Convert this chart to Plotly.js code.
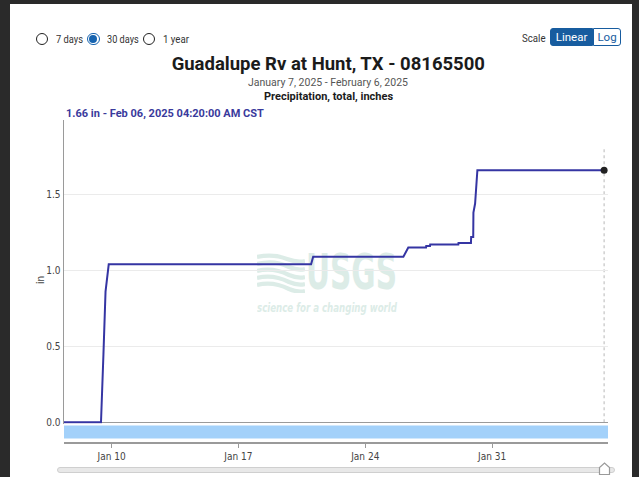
<!DOCTYPE html>
<html>
<head>
<meta charset="utf-8">
<script src="https://cdn.plot.ly/plotly-3.0.1.min.js"></script>
<style>
  html, body { margin:0; padding:0; width:639px; height:477px; overflow:hidden; background:#2a2a2a; }
  #card { position:absolute; left:10px; top:4px; width:622px; height:480px; background:#fff; }
  #wm { position:absolute; left:0; top:0; width:639px; height:477px; pointer-events:none; }
  #chart { position:absolute; left:0; top:0; width:639px; height:477px; }
  .ctl { position:absolute; font-family:Roboto, sans-serif; color:#333; white-space:nowrap; }
  .radio { position:absolute; width:10.4px; height:10.4px; border:1.6px solid #222; border-radius:50%; background:#fff; }
  .radio.on { border:1.8px solid #1764b0; }
  .radio.on::after { content:''; position:absolute; left:1.3px; top:1.3px; width:7.8px; height:7.8px; border-radius:50%; background:#1764b0; }
  .fit { position:absolute; white-space:nowrap; transform-origin:0 0; }
  .lbl { font-family:Roboto, sans-serif; font-size:11.5px; line-height:14px; color:#333; }
</style>
</head>
<body>
<div id="card"></div>
<div id="wm">
  <svg style="position:absolute;left:257px;top:253px" width="48" height="40" viewBox="0 0 48 40">
    <g fill="none" stroke="#dcece7" stroke-width="4.2">
      <path d="M0,4 C10,2 20,2 30,6 C38,9 44,9 48,8"/>
      <path d="M0,11 C12,8 22,9 32,14 C39,17 44,17 48,16"/>
      <path d="M0,18 C12,15 22,17 32,22 C39,25 44,25 48,24"/>
      <path d="M0,25 C12,22 22,24 32,29 C39,32 44,32 48,31"/>
      <path d="M0,32 C12,29 22,31 32,36 C39,39 44,39 48,38"/>
    </g>
  </svg>
  <span class="fit" id="wmUSGS" data-x="306" data-y="246.7" data-w="91" style="font-family:'Liberation Sans Narrow','DejaVu Sans Condensed',sans-serif;font-weight:bold;font-size:50px;line-height:50px;color:#dcece7;">USGS</span>
  <span class="fit" id="wmSub" data-x="257" data-y="300.5" data-w="140" style="font-family:'Liberation Sans Narrow','DejaVu Sans Condensed',sans-serif;font-style:italic;font-weight:bold;font-size:13px;line-height:13px;color:#dcece7;">science for a changing world</span>
</div>
<div id="chart"></div>

<div class="radio" style="left:35.5px;top:32.5px"></div>
<span class="fit lbl" data-x="55.5" data-y="32.3" data-w="27">7 days</span>
<div class="radio on" style="left:87.2px;top:32.5px"></div>
<span class="fit lbl" data-x="107.3" data-y="32.3" data-w="31.7">30 days</span>
<div class="radio" style="left:142.5px;top:32.5px"></div>
<span class="fit lbl" data-x="163.3" data-y="32.3" data-w="26">1 year</span>

<span class="fit lbl" data-x="521.7" data-y="30.5" data-w="23.5">Scale</span>
<div class="ctl" style="left:550px;top:28px;width:43px;height:18px;background:#175c9f;border:1px solid #175c9f;border-radius:3px 0 0 3px;box-sizing:border-box;color:#fff;font-size:11.5px;line-height:16px;text-align:center;">Linear</div>
<div class="ctl" style="left:593px;top:28px;width:28px;height:18px;background:#fff;border:1px solid #175c9f;border-radius:0 3px 3px 0;box-sizing:border-box;color:#175c9f;font-size:11.5px;line-height:16px;text-align:center;">Log</div>

<div style="position:absolute;left:57px;top:467px;width:556px;height:4px;background:#e8e8e8;border:1px solid #cfcfcf;border-radius:3px;"></div>
<svg style="position:absolute;left:598px;top:462px" width="13" height="14" viewBox="0 0 13 14">
  <path d="M1.5,12.5 L1.5,5.5 L6.5,1 L11.5,5.5 L11.5,12.5 Z" fill="#fff" stroke="#9a9a9a" stroke-width="1.2"/>
</svg>

<script>
// ---- data ----
const dates = [
  '2025-01-07 04:20', '2025-01-09 10:00', '2025-01-09 13:15', '2025-01-09 16:00', '2025-01-09 20:15',
  '2025-01-21 00:15', '2025-01-21 03:00', '2025-01-26 02:30', '2025-01-26 09:00',
  '2025-01-27 08:30', '2025-01-27 08:45', '2025-01-27 13:45', '2025-01-27 14:00',
  '2025-01-29 03:15', '2025-01-29 03:30', '2025-01-29 20:00', '2025-01-29 20:15',
  '2025-01-29 23:00', '2025-01-29 23:15', '2025-01-30 01:30', '2025-01-30 04:30',
  '2025-02-06 04:20'
];
const precip = [
  0, 0, 0.45, 0.86, 1.04,
  1.04, 1.09, 1.09, 1.15,
  1.15, 1.16, 1.16, 1.17,
  1.17, 1.18, 1.18, 1.22,
  1.22, 1.38, 1.44, 1.66,
  1.66
];
const xTickVals = ['2025-01-10', '2025-01-17', '2025-01-24', '2025-01-31'];
const xTickText = ['Jan 10', 'Jan 17', 'Jan 24', 'Jan 31'];
const yTickVals = [0, 0.5, 1.0, 1.5];
const yTickText = ['0.0', '0.5', '1.0', '1.5'];
const titleText = 'Guadalupe Rv at Hunt, TX - 08165500';
const subtitleText = 'January 7, 2025 - February 6, 2025';
const paramText = 'Precipitation, total, inches';
const unitText = 'in';

// ---- layout helpers (pixel -> paper) ----
const L = 64, R = 608, T = 120, B = 442;
const px = x => (x - L) / (R - L);
const py = y => (B - y) / (B - T);
const NARROW = "'Liberation Sans Narrow','DejaVu Sans Condensed','Arial Narrow',sans-serif";

const last = dates.length - 1;
const currentText = precip[last].toFixed(2) + ' in - Feb 06, 2025 04:20:00 AM CST';

const traces = [
  { x: dates, y: precip, type: 'scatter', mode: 'lines',
    line: { color: '#3535a3', width: 2 }, hoverinfo: 'skip' },
  { x: [dates[last]], y: [precip[last]], type: 'scatter', mode: 'markers',
    marker: { color: '#222', size: 7 }, cliponaxis: false, hoverinfo: 'skip' }
];

const layout = {
  width: 639, height: 477,
  margin: { l: L, r: 639 - R, t: T, b: 477 - B, pad: 0 },
  paper_bgcolor: 'rgba(0,0,0,0)', plot_bgcolor: 'rgba(0,0,0,0)',
  showlegend: false,
  font: { family: NARROW, size: 10, color: '#444' },
  title: { text: titleText, font: { family: 'Roboto', size: 18.5, color: '#1b1b1b', weight: 'bold' },
           xref: 'container', x: 328.3 / 639, xanchor: 'center',
           yref: 'container', y: 1 - 64 / 477, yanchor: 'middle' },
  xaxis: { type: 'date', range: ['2025-01-07 09:00', '2025-02-06 09:30'],
           anchor: 'free', position: 0, showline: true, linecolor: '#9a9a9a', linewidth: 1.5,
           ticks: 'outside', ticklen: 4, tickcolor: '#9a9a9a', tickwidth: 1,
           tickmode: 'array', tickvals: xTickVals, ticktext: xTickText,
           showgrid: false, zeroline: false, tickfont: { size: 10, color: '#444' }, fixedrange: true },
  yaxis: { range: [-0.01, 1.99], domain: [py(423.8), 1],
           showline: true, linecolor: '#9a9a9a', linewidth: 1.5, ticks: '',
           tickmode: 'array', tickvals: yTickVals, ticktext: yTickText,
           showgrid: true, gridcolor: '#ebebeb', gridwidth: 1,
           zeroline: true, zerolinecolor: '#9a9a9a', zerolinewidth: 1.5,
           tickfont: { size: 10, color: '#444' }, fixedrange: true },
  shapes: [
    { type: 'rect', xref: 'paper', yref: 'paper', x0: 0, x1: 1, y0: py(438.5), y1: py(425.5),
      fillcolor: '#a3d1fa', line: { width: 0 }, layer: 'below' },
    { type: 'line', xref: 'x', yref: 'y', x0: dates[last], x1: dates[last], y0: 0, y1: 1.8,
      line: { color: '#b8b8b8', width: 1, dash: '3px,3px' }, layer: 'below' }
  ],
  annotations: [
    { text: subtitleText, xref: 'paper', yref: 'paper', x: px(328), y: py(82.5),
      xanchor: 'center', yanchor: 'middle', showarrow: false,
      font: { family: 'Roboto', size: 10.5, color: '#555' } },
    { text: paramText, xref: 'paper', yref: 'paper', x: px(328.5), y: py(96.5),
      xanchor: 'center', yanchor: 'middle', showarrow: false,
      font: { family: 'Roboto', size: 11, color: '#1b1b1b', weight: 'bold' } },
    { text: currentText, xref: 'paper', yref: 'paper', x: px(63.5), y: py(113.5),
      xanchor: 'left', yanchor: 'middle', showarrow: false,
      font: { family: 'Roboto', size: 11, color: '#3a3a9c', weight: 'bold' } },
    { text: unitText, xref: 'paper', yref: 'paper', x: px(40), y: py(280),
      xanchor: 'center', yanchor: 'middle', showarrow: false, textangle: -90,
      font: { family: NARROW, size: 10, color: '#444' } }
  ]
};

Plotly.newPlot('chart', traces, layout, { displayModeBar: false, staticPlot: true });

// fit fixed-width texts to the widths measured on the reference
function fitAll() {
  document.querySelectorAll('.fit').forEach(el => {
    el.style.left = el.dataset.x + 'px';
    el.style.top = el.dataset.y + 'px';
    el.style.transform = 'none';
    const w = el.getBoundingClientRect().width;
    if (w > 0) el.style.transform = 'scaleX(' + (parseFloat(el.dataset.w) / w) + ')';
  });
}
fitAll();
if (document.fonts && document.fonts.ready) document.fonts.ready.then(fitAll);
</script>
</body>
</html>
